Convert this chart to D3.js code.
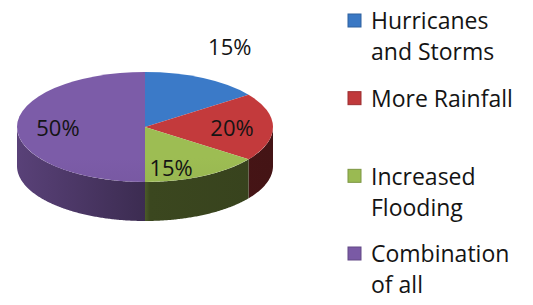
<!DOCTYPE html>
<html>
<head>
<meta charset="utf-8">
<script src="https://cdn.jsdelivr.net/npm/d3@7"></script>
<style>
  body { margin: 0; background: #fff; }
  text { font-family: "Open Sans", sans-serif; fill: #141414; }
</style>
</head>
<body>
<script>
// chart data
var categories = ["Hurricanes and Storms", "More Rainfall", "Increased Flooding", "Combination of all"];
var legendLines = [["Hurricanes", "and Storms"], ["More Rainfall"], ["Increased", "Flooding"], ["Combination", "of all"]];
var values = [15, 20, 15, 50];
var colors = ["#3a78c4", "#c0393b", "#9aba52", "#7a5aa5"];

var width = 533, height = 305;
var cx = 145, cy = 127, rx = 128, ry = 55, depth = 39;

var svg = d3.select("body").append("svg")
    .attr("width", width)
    .attr("height", height);

var defs = svg.append("defs");

var pie = d3.pie().sort(null).value(function(d) { return d; });
var slices = pie(values);

// gradients for tops and sides
slices.forEach(function(d, i) {
  var c = d3.color(colors[i]);
  var gt = defs.append("linearGradient")
      .attr("id", "top" + i)
      .attr("gradientUnits", "userSpaceOnUse")
      .attr("x1", 0).attr("y1", cy - ry).attr("x2", 0).attr("y2", cy + ry);
  gt.append("stop").attr("offset", 0).attr("stop-color", c.brighter(0.05));
  gt.append("stop").attr("offset", 1).attr("stop-color", c.darker(0.12));

  var gs = defs.append("linearGradient")
      .attr("id", "side" + i)
      .attr("gradientUnits", "userSpaceOnUse")
      .attr("x1", cx - rx).attr("y1", 0).attr("x2", cx + rx).attr("y2", 0);
  gs.append("stop").attr("offset", 0).attr("stop-color", c.darker(0.9));
  gs.append("stop").attr("offset", 0.5).attr("stop-color", c.darker(2.0));
  gs.append("stop").attr("offset", 0.52).attr("stop-color", c.darker(2.7));
  gs.append("stop").attr("offset", 1).attr("stop-color", c.darker(2.9));
});

function px(a, r) { return cx + r * rx * Math.sin(a); }
function py(a, r) { return cy - r * ry * Math.cos(a); }

// side walls (front half only)
var line = d3.line();
var sides = svg.append("g");
slices.forEach(function(d, i) {
  var a0 = Math.max(d.startAngle, Math.PI / 2),
      a1 = Math.min(d.endAngle, Math.PI * 1.5);
  if (a1 <= a0) return;
  var angles = d3.range(a0, a1, 0.01).concat([a1]);
  var pts = angles.map(function(a) { return [px(a, 1), py(a, 1)]; });
  var back = angles.slice().reverse().map(function(a) { return [px(a, 1), py(a, 1) + depth]; });
  sides.append("path")
      .attr("d", line(pts.concat(back)) + "Z")
      .attr("fill", "url(#side" + i + ")");
});

// top face
var arc = d3.arc().innerRadius(0).outerRadius(rx);
svg.append("g")
    .attr("transform", "translate(" + cx + "," + cy + ") scale(1," + (ry / rx) + ")")
  .selectAll("path")
    .data(slices)
  .enter().append("path")
    .attr("d", arc)
    .attr("fill", function(d, i) { return "url(#top" + i + ")"; });

// percentage labels
var total = d3.sum(values);
svg.append("g").selectAll("text")
    .data(slices)
  .enter().append("text")
    .attr("x", function(d, i) {
      var a = (d.startAngle + d.endAngle) / 2;
      return i === 0 ? px(a - 0.05, 1.62) : i === 2 ? px(a + 0.2, 0.76) : px(a, 0.68);
    })
    .attr("y", function(d, i) {
      var a = (d.startAngle + d.endAngle) / 2;
      return i === 0 ? py(a - 0.05, 1.62) : i === 2 ? py(a + 0.2, 0.76) : py(a, 0.68);
    })
    .attr("text-anchor", "middle")
    .attr("dominant-baseline", "central")
    .style("font-size", "22px")
    .text(function(d) { return Math.round(d.data / total * 100) + "%"; });

// legend
var legendY = d3.scalePoint()
    .domain(categories)
    .range([21, 254]);

var legend = svg.append("g").selectAll("g")
    .data(categories)
  .enter().append("g")
    .attr("transform", function(d) { return "translate(348," + legendY(d) + ")"; });

legend.append("rect")
    .attr("x", 0).attr("y", -7)
    .attr("width", 13).attr("height", 13)
    .attr("fill", function(d, i) { return colors[i]; })
    .attr("stroke", function(d, i) { return d3.color(colors[i]).darker(0.6); })
    .attr("stroke-width", 1);

legend.append("text")
    .attr("x", 23)
    .attr("y", 0)
    .style("font-size", "23px")
  .selectAll("tspan")
    .data(function(d, i) { return legendLines[i]; })
  .enter().append("tspan")
    .attr("x", 23)
    .attr("dy", function(d, j) { return j === 0 ? "0.36em" : "31px"; })
    .text(function(d) { return d; });
</script>
</body>
</html>
